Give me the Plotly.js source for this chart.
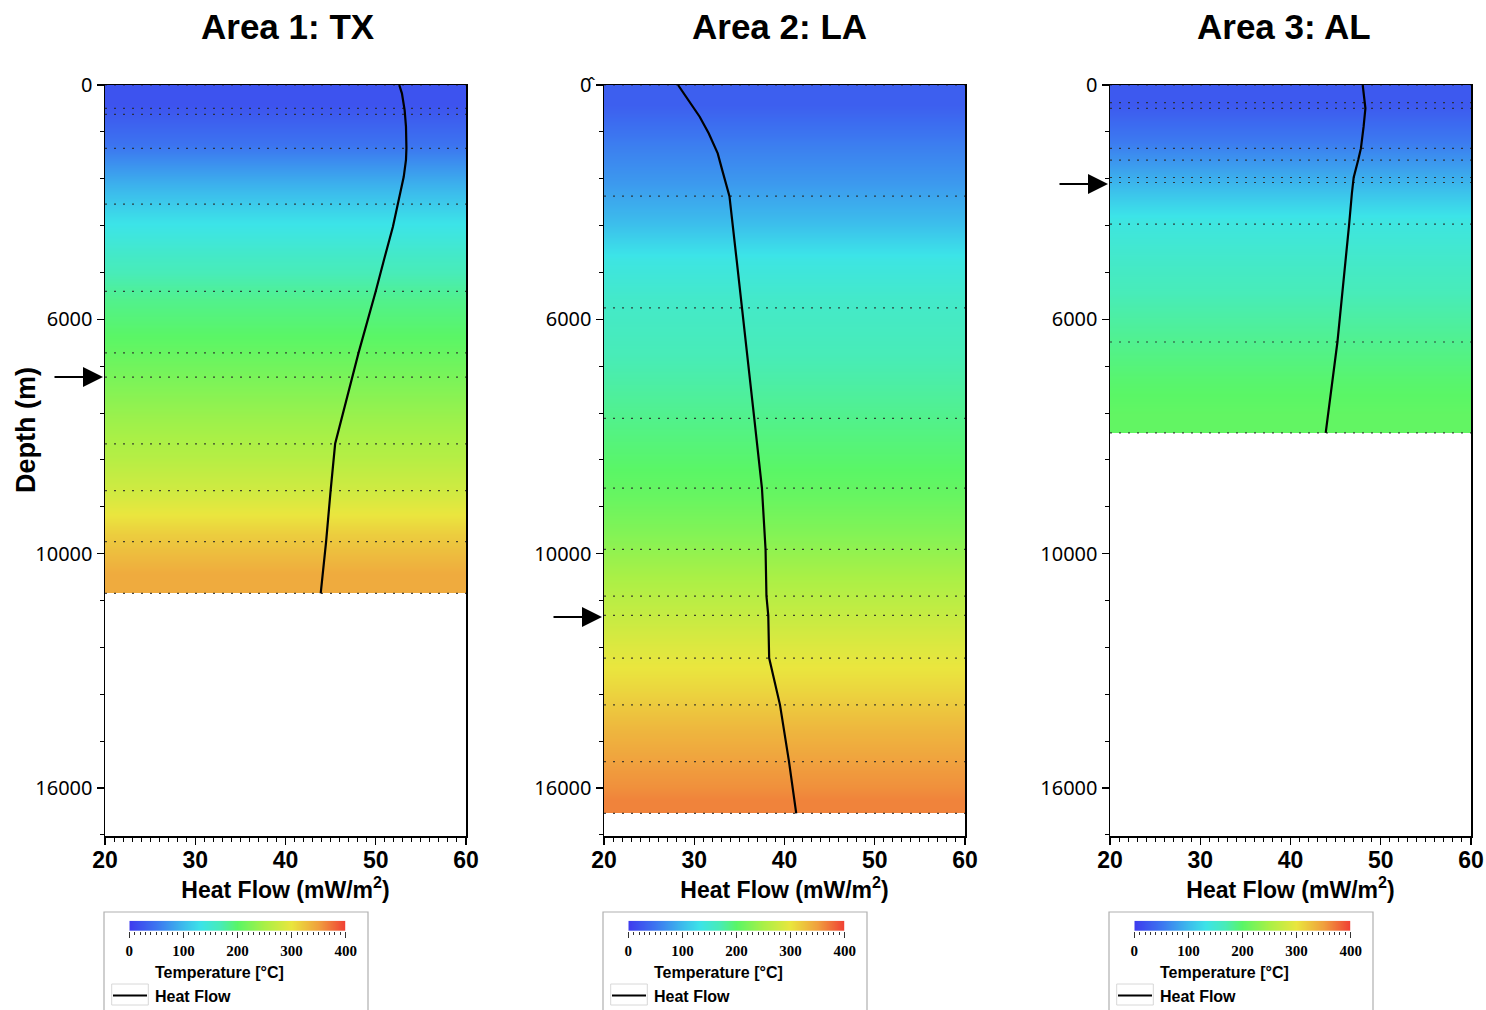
<!DOCTYPE html>
<html>
<head>
<meta charset="utf-8">
<script src="https://cdn.plot.ly/plotly-3.0.1.min.js"></script>
<style>html,body{margin:0;padding:0;background:#fff;}#chart{width:1486px;height:1010px;}</style>
</head>
<body>
<div id="chart"></div>
<script>
// ---------- DATA ----------
const panelTitles = ['Area 1: TX', 'Area 2: LA', 'Area 3: AL'];
const depthTickVals = [0, 6000, 12000, 18000];
const depthTickText1 = ['0', '6000', '10000', '16000'];
const depthTickText2 = ['0\u0302', '6000', '10000', '16000'];
const depthTickText3 = ['0', '6000', '10000', '16000'];
const heatFlowTicks = [20, 30, 40, 50, 60];
const legendTempTicks = [0, 100, 200, 300, 400];
const legendTemps = [0, 50, 100, 150, 200, 250, 300, 350, 400];

// temperature bands (depth edges, temperature per band, °C)
const tempEdges1 = [0, 1000, 2000, 3000, 4000, 5000, 6000, 7000, 8000, 9000, 10000, 11000, 12000, 13020];
const temp1 = [20, 47, 90, 130, 160, 185, 201, 220, 240, 258, 283, 318, 342];
const tempEdges2 = [0, 1000, 2000, 3000, 4000, 5000, 6000, 7000, 8000, 9000, 10000, 11000, 12000, 13000, 14000, 15000, 16000, 17000, 18000, 18650];
const temp2 = [30, 55, 75, 100, 137, 155, 164, 174, 185, 196, 208, 226, 248, 270, 292, 312, 334, 352, 365];
const tempEdges3 = [0, 1000, 2000, 3000, 4000, 5000, 6000, 7000, 8000, 8906];
const temp3 = [25, 55, 95, 138, 155, 170, 183, 196, 205];

// layer boundaries (dotted lines), depth
const layers1 = [0, 597, 751, 1623, 3051, 5282, 6859, 7479, 9187, 10385, 11692, 13018];
const layers2 = [0, 2846, 5709, 8536, 10320, 11890, 13086, 13580, 14675, 15872, 17326, 18649];
const layers3 = [0, 453, 598, 1624, 1923, 2368, 2496, 3564, 6581, 8906];

// heat flow profiles
const hfDepth1 = [0, 213, 641, 1067, 1615, 1920, 2350, 2774, 3051, 3628, 4487, 5282, 6854, 7479, 9187, 10385, 11692, 13018];
const hf1 = [52.6, 52.9, 53.2, 53.35, 53.4, 53.35, 53.1, 52.7, 52.4, 51.9, 50.9, 50.0, 48.1, 47.4, 45.5, 45.0, 44.5, 43.9];
const hfDepth2 = [0, 384, 812, 1238, 1496, 1750, 2180, 2348, 2846, 4487, 5709, 6274, 7051, 8536, 10320, 11890, 13086, 13580, 14675, 15872, 17326, 18649];
const hf2 = [28.2, 29.3, 30.6, 31.6, 32.1, 32.6, 33.1, 33.3, 33.9, 34.7, 35.3, 35.6, 36.0, 36.65, 37.5, 37.9, 38.0, 38.2, 38.3, 39.5, 40.5, 41.3];
const hfDepth3 = [0, 598, 1068, 1624, 1923, 2368, 2778, 3564, 6581, 8906];
const hf3 = [48.0, 48.3, 48.1, 47.8, 47.5, 47.0, 46.8, 46.5, 45.2, 43.9];

// arrows (depth marks)
const arrowDepths = [7480, 13620, 2535];

// ---------- STYLE / LAYOUT ----------
const W = 1486, H = 1010;
const px = x => x / W;
const py = y => 1 - y / H;
const plotLeft = [105, 604, 1110];
const plotRight = [466, 965, 1471];
const plotTop = 85, plotBottom = 836;
const titleX = [288, 779, 1284];

const colorscale = [
  [0, 'rgb(62,60,238)'], [0.125, 'rgb(60,118,240)'], [0.25, 'rgb(60,188,236)'],
  [0.33, 'rgb(60,228,232)'], [0.42, 'rgb(72,236,184)'], [0.5, 'rgb(90,246,102)'],
  [0.625, 'rgb(170,240,70)'], [0.75, 'rgb(234,230,62)'], [0.875, 'rgb(240,160,62)'],
  [1, 'rgb(240,62,52)']
];

const panels = [
  {edges: tempEdges1, temp: temp1, layers: layers1, hfd: hfDepth1, hf: hf1, ticktext: depthTickText1},
  {edges: tempEdges2, temp: temp2, layers: layers2, hfd: hfDepth2, hf: hf2, ticktext: depthTickText2},
  {edges: tempEdges3, temp: temp3, layers: layers3, hfd: hfDepth3, hf: hf3, ticktext: depthTickText3}
];

const traces = [];
const layout = {
  width: W, height: H,
  margin: {l: 0, r: 0, t: 0, b: 0},
  paper_bgcolor: '#fff', plot_bgcolor: '#fff',
  showlegend: false,
  font: {family: 'Liberation Sans, Arial, sans-serif', color: '#000'},
  annotations: [], shapes: []
};

panels.forEach((p, i) => {
  const s = i === 0 ? '' : String(i + 1);
  const xa = 'x' + s, ya = 'y' + s;
  // temperature background
  traces.push({
    type: 'heatmap', x: [20, 60], y: p.edges,
    z: p.temp.map(t => [t, t]),
    zmin: 0, zmax: 400, colorscale: colorscale, zsmooth: 'best',
    showscale: false, hoverinfo: 'skip', xaxis: xa, yaxis: ya
  });
  // layer boundaries
  const lx = [], ly = [];
  p.layers.forEach(d => { lx.push(20, 60, null); ly.push(d, d, null); });
  traces.push({
    type: 'scatter', mode: 'lines', x: lx, y: ly,
    line: {color: 'rgba(40,40,40,0.85)', width: 1.2, dash: '2px,7px'},
    hoverinfo: 'skip', xaxis: xa, yaxis: ya
  });
  // heat flow
  traces.push({
    type: 'scatter', mode: 'lines', x: p.hf, y: p.hfd,
    line: {color: '#000', width: 2.2},
    hoverinfo: 'skip', xaxis: xa, yaxis: ya
  });

  layout['xaxis' + s] = {
    domain: [px(plotLeft[i]), px(plotRight[i])], anchor: ya,
    range: [20, 60], tickvals: heatFlowTicks, ticktext: heatFlowTicks.map(String),
    ticks: 'outside', ticklen: 7, tickwidth: 1.2, tickcolor: '#000',
    ticklabelstandoff: -4,
    minor: {dtick: 1, tick0: 20, ticks: 'outside', ticklen: 4, tickcolor: '#000', tickwidth: 1},
    showline: true, mirror: true, linecolor: '#000', linewidth: 1.5,
    showgrid: false, zeroline: false,
    tickfont: {family: 'Liberation Sans, Arial, sans-serif', size: 23, weight: 'bold', color: '#000'},
    title: {text: 'Heat Flow (mW/m<sup>2</sup>)', standoff: 2,
            font: {family: 'Liberation Sans, Arial, sans-serif', size: 23, weight: 'bold', color: '#000'}}
  };
  layout['yaxis' + s] = {
    domain: [py(plotBottom), py(plotTop)], anchor: xa,
    range: [19230, 0], tickvals: depthTickVals, ticktext: p.ticktext,
    ticks: 'outside', ticklen: 7, tickwidth: 1.2, tickcolor: '#000',
    minor: {dtick: 1200, tick0: 0, ticks: 'outside', ticklen: 4, tickcolor: '#000', tickwidth: 1},
    showline: true, mirror: true, linecolor: '#000', linewidth: 1.5,
    showgrid: false, zeroline: false,
    tickfont: {family: 'Noto Sans, sans-serif', size: 20, color: '#000'}
  };

  // panel title
  layout.annotations.push({
    text: '<b>' + panelTitles[i] + '</b>', xref: 'paper', yref: 'paper',
    x: px(titleX[i]), y: py(26), xanchor: 'center', yanchor: 'middle', showarrow: false,
    font: {family: 'Liberation Sans, Arial, sans-serif', size: 35, color: '#000'}
  });
  // arrow
  layout.annotations.push({
    text: '', xref: 'paper', yref: ya, x: px(plotLeft[i] - 2), y: arrowDepths[i],
    showarrow: true, ax: -50, ay: 0, arrowhead: 2, arrowsize: 2, arrowwidth: 2, arrowcolor: '#000', standoff: 0
  });

  // legend box
  const L = plotLeft[i];
  layout.shapes.push({type: 'rect', xref: 'paper', yref: 'paper',
    x0: px(L - 1), x1: px(L + 263), y0: py(1020), y1: py(912),
    line: {color: '#b0b0b0', width: 1.2}, fillcolor: 'rgba(0,0,0,0)'});
  layout.shapes.push({type: 'rect', xref: 'paper', yref: 'paper',
    x0: px(L + 6.7), x1: px(L + 43.3), y0: py(1005), y1: py(984),
    line: {color: '#d8d8d8', width: 1}, fillcolor: 'rgba(0,0,0,0)'});
  layout.shapes.push({type: 'line', xref: 'paper', yref: 'paper',
    x0: px(L + 8), x1: px(L + 42), y0: py(995.5), y1: py(995.5),
    line: {color: '#000', width: 2.2}});
  layout.annotations.push({
    text: '<b>Temperature [°C]</b>', xref: 'paper', yref: 'paper',
    x: px(L + 48), y: py(972), xanchor: 'left', yanchor: 'middle', showarrow: false,
    font: {family: 'Liberation Sans, Arial, sans-serif', size: 16, color: '#000'}
  });
  layout.annotations.push({
    text: '<b>Heat Flow</b>', xref: 'paper', yref: 'paper',
    x: px(L + 48), y: py(996), xanchor: 'left', yanchor: 'middle', showarrow: false,
    font: {family: 'Liberation Sans, Arial, sans-serif', size: 16, color: '#000'}
  });

  // legend colour bar as a tiny subplot
  const ls = String(i + 4);
  traces.push({
    type: 'heatmap', x: legendTemps, y: [0, 1], z: [legendTemps, legendTemps],
    zmin: 0, zmax: 400, colorscale: colorscale, zsmooth: 'best', showscale: false,
    hoverinfo: 'skip', xaxis: 'x' + ls, yaxis: 'y' + ls
  });
  layout['xaxis' + ls] = {
    domain: [px(L + 24.3), px(L + 240.7)], anchor: 'y' + ls, range: [0, 400],
    tickvals: legendTempTicks, ticktext: legendTempTicks.map(String),
    ticks: 'outside', ticklen: 6, tickwidth: 1, tickcolor: '#333',
    minor: {dtick: 10, tick0: 0, ticks: 'outside', ticklen: 3, tickcolor: '#333', tickwidth: 1},
    showline: false, showgrid: false, zeroline: false,
    tickfont: {family: 'Liberation Serif, serif', size: 15, weight: 'bold', color: '#000'}
  };
  layout['yaxis' + ls] = {
    domain: [py(931), py(920.7)], anchor: 'x' + ls, range: [0, 1], visible: false
  };
});

// y-axis label
layout.annotations.push({
  text: '<b>Depth (m)</b>', xref: 'paper', yref: 'paper', x: px(26), y: py(430),
  xanchor: 'center', yanchor: 'middle', textangle: -90, showarrow: false,
  font: {family: 'Liberation Sans, Arial, sans-serif', size: 27, color: '#000'}
});

Plotly.newPlot('chart', traces, layout, {staticPlot: true, displayModeBar: false});
</script>
</body>
</html>
